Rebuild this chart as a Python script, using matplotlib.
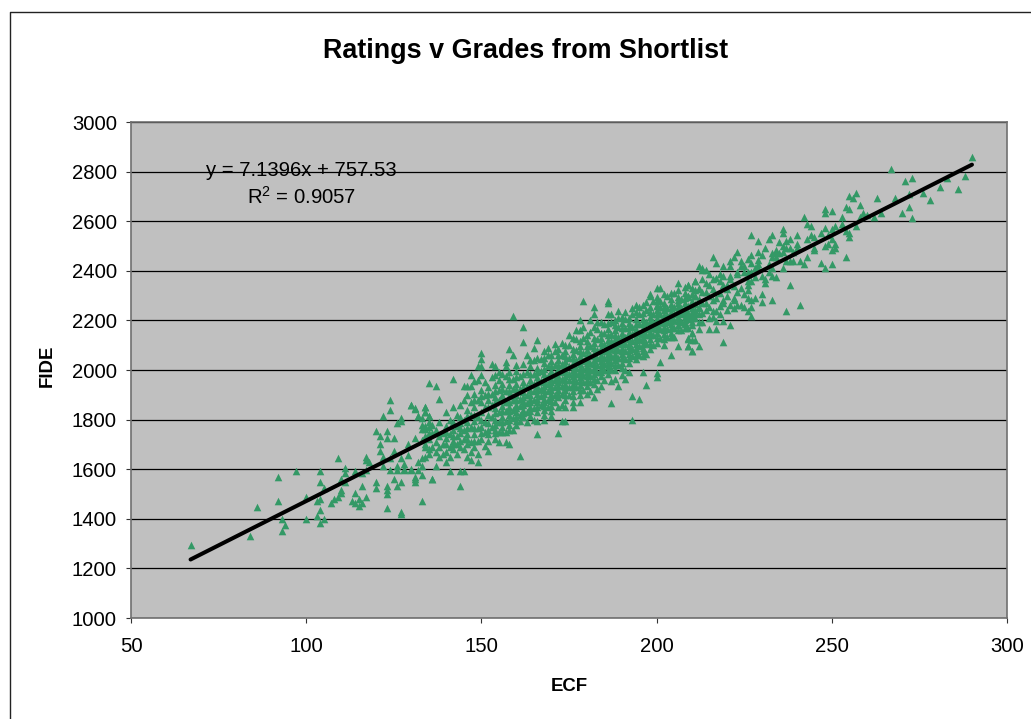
import matplotlib
matplotlib.use('Agg')
import matplotlib.pyplot as plt
from matplotlib.lines import Line2D

plt.rcParams['font.family'] = ['Liberation Sans', 'DejaVu Sans']
plt.rcParams['mathtext.fontset'] = 'custom'
plt.rcParams['mathtext.rm'] = 'Liberation Sans'
plt.rcParams['mathtext.default'] = 'regular'

# trendline from the chart's own equation
slope = 7.1396
intercept = 757.53
fit_ecf = [67, 290]

# points as (ECF, FIDE)
low_points = [
    (67,1293),(84,1331),(86,1449),(92,1569),(92,1472),(93,1398),(94,1375),(93,1352),(97,1591),(100,1487),
    (100,1398),(103,1472),(103,1413),(104,1591),(104,1547),(105,1524),(104,1480),(104,1435),(105,1398),(104,1383),
    (107,1465),(108,1480),(109,1487),(110,1516),(110,1503),(110,1562),(109,1644),(111,1606),(111,1583),(111,1547),
    (114,1591),(114,1503),(113,1472),(114,1465),(115,1480),(115,1450),(116,1465),(117,1487),(116,1532),(117,1650),
    (117,1636),(118,1628),(116,1583),(117,1598),(120,1755),(120,1547),(120,1524),(121,1732),(121,1703),(121,1673),
    (123,1755),(123,1726),(125,1726),(122,1816),(124,1837),(124,1879),(123,1532),(123,1516),(123,1501),(123,1442),
    (127,1427),(127,1419),(122,1650),(124,1644),(122,1613),(124,1598),(125,1673),(125,1562),(126,1613),(126,1598),
    (127,1644),(128,1621),(128,1598),(130,1598),(127,1547),(126,1532),(126,1785),(127,1808),(127,1793),(129,1703),
    (129,1659),(131,1726),(130,1859),(131,1845),(132,1816),(133,1808),(134,1852),(134,1829),(135,1816),(133,1778),
    (133,1763),(134,1763),(135,1770),(135,1747),(133,1718),(134,1688),(135,1680),(134,1650),(133,1644),(132,1628),
    (132,1598),(133,1613),(133,1577),(131,1569),(131,1547),(133,1472),(136,1562),(131,1562),(128,1600),(130,1600),
]

mid_edge_points = [
    (159,2218),(162,2172),(162,2113),(158,2083),(159,2061),(166,2120),(165,2090),(168,2075),(179,2277),(182,2254),
    (182,2225),(186,2277),(186,2269),(186,2225),(189,2239),(178,2202),(181,2202),(185,2187),(194,2262),(196,2262),
    (198,2307),(198,2298),(200,2329),(201,2329),(206,2352),(209,2344),(211,2359),(212,2329),(206,2323),(204,2285),
    (209,2300),(200,2277),(201,2277),(200,2262),(144,1532),(136,1562),(137,1614),(141,1592),(144,1592),(145,1592),
    (140,1629),(147,1637),(149,1629),(161,1652),(166,1741),(172,1747),(152,1673),(155,1711),(158,1703),(157,1711),
    (173,1793),(174,1793),(193,1800),(187,1867),(182,1890),(193,1897),(195,1882),(197,1941),(184,1934),(189,1934),
    (200,1987),(200,1971),(196,1993),(201,2031),(204,2061),(206,2098),(209,2098),(210,2075),(210,2151),(209,2128),
    (135,1949),(137,1934),(142,1964),(138,1882),(130,1859),(131,1844),(134,1852),(134,1829),(135,1815),(132,1815),
    (147,1979),(148,1957),(145,1934),(146,1934),(147,1934),(150,2067),(150,2046),(149,2016),(150,2016),(153,2023),
    (154,2016),(155,1993),(154,1979),(157,2031),(157,2016),
    (166,1795),(168,1800),(170,1815),(172,1850),(174,1850),(176,1850),(178,1870),(180,1905),(181,1915),(183,1925),
    (185,1960),(187,1955),(188,1965),(191,1965),(192,1990),(163,2060),(169,2090),(171,2105),(173,2110),(175,2140),
    (177,2160),(179,2175),(183,2195),(187,2225),(189,2210),(191,2235),(193,2250),(195,2255),(197,2275),(199,2280),
]

dense_points = [
    (134,1700),(134,1735),(134,1775),(135,1660),(135,1720),(135,1790),(136,1690),(136,1745),(136,1780),(137,1670),
    (137,1710),(137,1760),(138,1650),(138,1690),(138,1735),(138,1790),(139,1660),(139,1700),(139,1745),(140,1670),
    (140,1725),(140,1775),(140,1830),(141,1650),(141,1690),(141,1740),(141,1800),(142,1680),(142,1715),(142,1760),
    (142,1790),(142,1850),(143,1660),(143,1700),(143,1735),(143,1775),(143,1820),(144,1690),(144,1745),(144,1785),
    (144,1860),(145,1680),(145,1720),(145,1760),(145,1800),(145,1880),(146,1650),(146,1700),(146,1740),(146,1790),
    (146,1840),(146,1900),(147,1670),(147,1710),(147,1770),(147,1820),(147,1870),(148,1690),(148,1740),(148,1795),
    (148,1850),(148,1905),(149,1660),(149,1715),(149,1765),(149,1810),(149,1880),(149,1960),(150,1720),(150,1770),
    (150,1830),(150,1870),(150,1920),(150,1980),(151,1695),(151,1750),(151,1790),(151,1850),(151,1900),(151,1950),
    (152,1740),(152,1785),(152,1820),(152,1880),(152,1930),(153,1770),(153,1810),(153,1860),(153,1905),(153,1970),
    (154,1720),(154,1760),(154,1800),(154,1845),(154,1890),(154,1940),(155,1750),(155,1790),(155,1830),(155,1880),
    (155,1920),(155,1960),(156,1770),(156,1810),(156,1855),(156,1900),(156,1945),(157,1750),(157,1795),(157,1835),
    (157,1870),(157,1915),(157,1975),(158,1780),(158,1820),(158,1850),(158,1895),(158,1940),(158,1990),(159,1760),
    (159,1805),(159,1840),(159,1880),(159,1925),(159,1965),(160,1780),(160,1810),(160,1830),(160,1860),(160,1900),
    (160,1945),(160,1995),(161,1795),(161,1820),(161,1855),(161,1885),(161,1925),(161,1975),(162,1810),(162,1840),
    (162,1875),(162,1910),(162,1950),(162,2025),(163,1790),(163,1830),(163,1865),(163,1900),(163,1935),(163,1990),
    (164,1815),(164,1850),(164,1885),(164,1920),(164,1960),(164,2040),(165,1800),(165,1845),(165,1880),(165,1915),
    (165,1945),(165,1985),(165,2040),(166,1830),(166,1870),(166,1905),(166,1935),(166,1970),(166,2010),(167,1860),
    (167,1895),(167,1925),(167,1955),(167,1995),(167,2045),(168,1820),(168,1855),(168,1885),(168,1920),(168,1950),
    (168,1985),(168,2030),(169,1850),(169,1880),(169,1915),(169,1945),(169,1975),(169,2015),(169,2060),(170,1835),
    (170,1875),(170,1905),(170,1935),(170,1965),(170,1995),(170,2035),(171,1870),(171,1900),(171,1930),(171,1960),
    (171,1985),(171,2020),(171,2075),(172,1890),(172,1920),(172,1950),(172,1975),(172,2005),(172,2040),(172,2085),
    (173,1860),(173,1905),(173,1935),(173,1965),(173,1995),(173,2025),(173,2060),(174,1880),(174,1920),(174,1945),
    (174,1975),(174,2005),(174,2035),(174,2075),(175,1900),(175,1930),(175,1960),(175,1985),(175,2015),(175,2050),
    (175,2100),(176,1870),(176,1915),(176,1945),(176,1975),(176,2000),(176,2030),(176,2065),(177,1930),(177,1955),
    (177,1985),(177,2010),(177,2040),(177,2080),(177,2125),(178,1900),(178,1940),(178,1970),(178,1995),(178,2025),
    (178,2055),(178,2095),(179,1920),(179,1950),(179,1980),(179,2005),(179,2035),(179,2070),(179,2130),(180,1935),
    (180,1960),(180,1990),(180,2015),(180,2045),(180,2080),(180,2115),(181,1950),(181,1975),(181,2000),(181,2030),
    (181,2060),(181,2095),(181,2155),(182,1945),(182,1985),(182,2010),(182,2040),(182,2070),(182,2110),(183,1960),
    (183,1990),(183,2020),(183,2050),(183,2080),(183,2125),(183,2165),(184,1975),(184,2005),(184,2035),(184,2060),
    (184,2090),(184,2130),(185,2000),(185,2025),(185,2050),(185,2075),(185,2105),(185,2150),(186,1985),(186,2015),
    (186,2040),(186,2065),(186,2090),(186,2120),(186,2165),(187,2005),(187,2030),(187,2055),(187,2085),(187,2115),
    (187,2145),(187,2195),(188,2000),(188,2040),(188,2065),(188,2095),(188,2125),(188,2160),(188,2200),(189,2020),
    (189,2050),(189,2080),(189,2110),(189,2135),(189,2175),(190,1980),(190,2030),(190,2065),(190,2090),(190,2120),
    (190,2150),(190,2190),(191,2000),(191,2045),(191,2075),(191,2105),(191,2135),(191,2170),(191,2205),(192,2030),
    (192,2065),(192,2095),(192,2125),(192,2155),(192,2190),(193,2055),(193,2085),(193,2115),(193,2145),(193,2175),
    (193,2225),(194,2045),(194,2075),(194,2105),(194,2135),(194,2165),(194,2205),(195,2060),(195,2095),(195,2125),
    (195,2150),(195,2185),(195,2225),(196,2055),(196,2090),(196,2120),(196,2145),(196,2170),(196,2205),(197,2065),
    (197,2110),(197,2140),(197,2165),(197,2195),(197,2240),(198,2085),(198,2125),(198,2155),(198,2180),(198,2215),
    (198,2255),(199,2100),(199,2140),(199,2170),(199,2195),(199,2225),(200,2110),(200,2150),(200,2180),(200,2210),
    (200,2240),(200,2295),(201,2130),(201,2165),(201,2195),(201,2225),(201,2255),(202,2100),(202,2145),(202,2175),
    (202,2205),(202,2240),(202,2270),(203,2135),(203,2165),(203,2195),(203,2220),(203,2250),(203,2300),(204,2150),
    (204,2185),(204,2210),(204,2235),(204,2265),(205,2135),(205,2170),(205,2200),(205,2225),(205,2255),(205,2310),
    (206,2180),(206,2215),(206,2240),(206,2270),(206,2295),(207,2160),(207,2195),(207,2225),(207,2250),(207,2285),
    (208,2190),(208,2215),(208,2240),(208,2270),(208,2310),(209,2170),(209,2205),(209,2230),(209,2260),(209,2295),
    (210,2195),(210,2220),(210,2250),(210,2280),(210,2330),(211,2210),(211,2240),(211,2265),(211,2300),(212,2195),
    (212,2225),(212,2255),(212,2285),
]

# second pass over the crowded part of the band
dense_extra = [
    (150,1745),(150,1800),(150,1895),(152,1715),(152,1760),(152,1850),(152,1905),(154,1745),(154,1780),(154,1825),
    (154,1870),(154,1915),(156,1750),(156,1790),(156,1835),(156,1880),(156,1925),(156,1985),(158,1760),(158,1800),
    (158,1835),(158,1870),(158,1915),(158,1965),(160,1795),(160,1845),(160,1880),(160,1925),(160,1970),(160,2020),
    (162,1825),(162,1860),(162,1890),(162,1930),(162,1985),(164,1835),(164,1870),(164,1900),(164,1940),(164,1985),
    (164,2015),(166,1850),(166,1885),(166,1920),(166,1950),(166,1990),(166,2050),(168,1840),(168,1870),(168,1905),
    (168,1935),(168,1965),(168,2005),(168,2050),(170,1855),(170,1890),(170,1920),(170,1950),(170,1980),(170,2015),
    (170,2060),(172,1905),(172,1935),(172,1960),(172,1990),(172,2020),(172,2060),(174,1900),(174,1930),(174,1960),
    (174,1990),(174,2020),(174,2055),(174,2100),(176,1895),(176,1930),(176,1960),(176,1988),(176,2015),(176,2048),
    (176,2085),(176,2130),(178,1920),(178,1955),(178,1983),(178,2010),(178,2040),(178,2075),(178,2115),(178,2160),
    (180,1950),(180,1975),(180,2003),(180,2030),(180,2062),(180,2098),(180,2140),(182,1965),(182,1998),(182,2025),
    (182,2055),(182,2090),(182,2130),(182,2175),(184,1990),(184,2020),(184,2048),(184,2075),(184,2110),(184,2150),
    (184,2195),(186,2000),(186,2028),(186,2052),(186,2078),(186,2105),(186,2142),(186,2190),(188,2020),(188,2052),
    (188,2080),(188,2110),(188,2142),(188,2180),(190,2010),(190,2048),(190,2078),(190,2105),(190,2135),(190,2170),
    (190,2215),(192,2048),(192,2080),(192,2110),(192,2140),(192,2172),(192,2210),(194,2060),(194,2090),(194,2120),
    (194,2150),(194,2185),(194,2235),(196,2075),(196,2105),(196,2133),(196,2158),(196,2188),(196,2230),(198,2105),
    (198,2140),(198,2168),(198,2198),(198,2235),(200,2130),(200,2165),(200,2195),(200,2225),(200,2260),(202,2125),
    (202,2160),(202,2190),(202,2222),(202,2255),(202,2305),(204,2135),(204,2168),(204,2198),(204,2222),(204,2250),
    (204,2310),(206,2160),(206,2198),(206,2228),(206,2255),(206,2283),(208,2170),(208,2203),(208,2228),(208,2255),
    (208,2290),(210,2180),(210,2208),(210,2235),(210,2265),(210,2305),(140,1700),(140,1750),(142,1700),(142,1735),
    (144,1715),(144,1765),(144,1810),(146,1720),(146,1765),(146,1815),(148,1715),(148,1765),(148,1820),(148,1880),
]

high_points = [
    (290,2858),(267,2812),(271,2761),(273,2776),(288,2782),(286,2731),(281,2738),(283,2776),(278,2686),(276,2715),
    (272,2711),(272,2656),(270,2634),(273,2612),(268,2694),(263,2694),(257,2715),(255,2702),(256,2694),(258,2664),
    (254,2656),(255,2649),(253,2618),(259,2634),(260,2626),(258,2618),(262,2618),(264,2634),(257,2582),(254,2559),
    (255,2552),(255,2536),(253,2589),(251,2582),(250,2567),(248,2574),(247,2552),(248,2649),(248,2634),(250,2641),
    (242,2618),(243,2589),(244,2582),(240,2544),(236,2567),(236,2552),(233,2544),(232,2530),(227,2544),(229,2522),
    (231,2492),(243,2530),(244,2544),(245,2536),(238,2530),(237,2522),(235,2515),(249,2544),(250,2530),(248,2500),
    (249,2507),(251,2507),(251,2492),(250,2485),(245,2492),(245,2484),(254,2456),(243,2456),(241,2441),(242,2426),
    (247,2433),(248,2410),(250,2426),(240,2507),(240,2492),(239,2477),(236,2500),(237,2492),(238,2492),(234,2485),
    (233,2470),(234,2470),(235,2470),(236,2477),(233,2456),(234,2456),(232,2426),(238,2441),(237,2441),(239,2441),
    (236,2410),(233,2410),(232,2395),(233,2380),(234,2374),(238,2343),(233,2284),(241,2262),(237,2239),(230,2306),
    (230,2276),(227,2216),(226,2239),(227,2254),(221,2180),(219,2113),(212,2097),(210,2075),(209,2097),(209,2126),
    (210,2120),(211,2120),(210,2149),(215,2164),(217,2164),(212,2164),(213,2194),(219,2198),(216,2454),(212,2418),
    (213,2410),(217,2433),(219,2418),(221,2418),(221,2441),(222,2456),(223,2477),(224,2441),(225,2418),(224,2418),
    (226,2448),(227,2462),(229,2477),(230,2462),(229,2445),(227,2433),(229,2426),(229,2410),(228,2410),(223,2395),
    (223,2387),(225,2395),(226,2395),(227,2395),(228,2374),(230,2380),(231,2366),(231,2351),(226,2358),(226,2343),
    (226,2321),(227,2358),(223,2313),(225,2306),(226,2290),(227,2284),(228,2290),(221,2262),(223,2262),(224,2262),
    (225,2254),(222,2290),(222,2284),(219,2380),(218,2387),(221,2380),(221,2366),(218,2358),(219,2343),(220,2343),
    (220,2298),(219,2284),(219,2269),(218,2225),(217,2239),(216,2239),(215,2254),(213,2231),(215,2210),(217,2198),
    (211,2358),(213,2366),(214,2351),(215,2343),(216,2328),(212,2328),(211,2321),(213,2313),(214,2313),(215,2298),
    (216,2284),(214,2269),(211,2231),(210,2225),(209,2298),(211,2298),(209,2343),(208,2336),(207,2247),(208,2239),
    (207,2194),(208,2186),(209,2216),(214,2402),(213,2402),(215,2388),(217,2370),(216,2365),(220,2325),(222,2340),
    (224,2330),(218,2310),(217,2290),(214,2240),(213,2270),(212,2250),(216,2215),(218,2260),(220,2240),(222,2250),
]

all_points = low_points + mid_edge_points + dense_points + dense_extra + high_points
ecf = [p[0] for p in all_points]
fide = [p[1] for p in all_points]

x_ticks = [50, 100, 150, 200, 250, 300]
y_ticks = [1000, 1200, 1400, 1600, 1800, 2000, 2200, 2400, 2600, 2800, 3000]

W, H = 1031, 719
fig = plt.figure(figsize=(W / 100, H / 100), dpi=100, facecolor='white')
ax = fig.add_axes([131 / W, 1 - 618 / H, (1007 - 131) / W, (618 - 122) / H])
ax.set_facecolor('#C0C0C0')

ax.scatter(ecf, fide, marker='^', s=30, color='#339966', linewidths=0, zorder=3)
ax.plot(fit_ecf, [slope * v + intercept for v in fit_ecf], color='black', lw=2.9,
        solid_capstyle='round', zorder=4)

ax.set_xlim(50, 300)
ax.set_ylim(1000, 3000)
ax.set_xticks(x_ticks)
ax.set_yticks(y_ticks)
ax.grid(axis='y', color='black', lw=0.9, zorder=1)
ax.set_axisbelow(True)
ax.tick_params(axis='both', labelsize=14.6, length=3.6, width=0.8, color='#333333')
ax.tick_params(axis='x', pad=10)
ax.tick_params(axis='y', pad=6.5)
for side in ax.spines.values():
    side.set_color('#707070')
    side.set_linewidth(1.2)

fig.text(569.5 / W, 1 - 686.5 / H, 'ECF', fontsize=13.4, fontweight='bold', ha='center', va='center')
fig.text(47 / W, 1 - 366 / H, 'FIDE', fontsize=13.4, fontweight='bold', rotation=90,
         ha='center', va='center')

fig.text(526 / W, 1 - 51 / H, 'Ratings v Grades from Shortlist', fontsize=19.4,
         fontweight='bold', ha='center', va='center')
fig.text(301 / W, 1 - 170 / H, 'y = 7.1396x + 757.53', fontsize=14.6, ha='center', va='center')
fig.text(301 / W, 1 - 197 / H, 'R$^{2}$ = 0.9057', fontsize=14.6, ha='center', va='center')

# outer chart frame, only left and top are in the crop
fig.add_artist(Line2D([9.5 / W, 9.5 / W, 1], [0, 1 - 11.5 / H, 1 - 11.5 / H],
                      transform=fig.transFigure, color='#222222', lw=1.0))

fig.savefig('out.png', dpi=100)
